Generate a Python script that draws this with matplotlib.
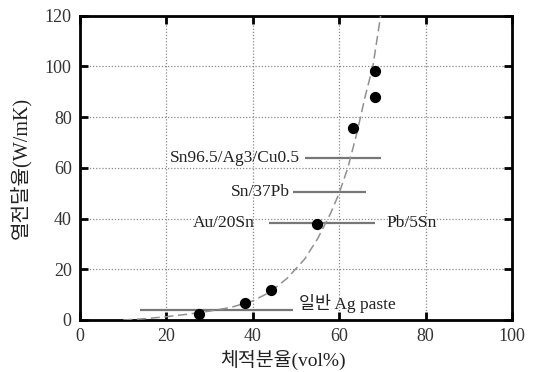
import matplotlib.pyplot as plt

# data
pts_x = [27.6, 38.3, 44.3, 54.8, 63.3, 68.2, 68.2]
pts_y = [2.4, 6.7, 11.9, 37.9, 75.5, 87.7, 98.0]

curve_x = [10, 15, 20, 25, 30, 35, 40, 44, 48, 52, 55, 58, 60, 62, 64, 66, 67.8, 69.6]
curve_y = [0, 0.5, 1.3, 2.3, 3.5, 5.0, 7.5, 11.0, 16.5, 24, 32, 42, 50, 60, 73, 88, 100, 120]

bar_labels = ['Sn96.5/Ag3/Cu0.5', 'Sn/37Pb', 'Au/20Sn', '일반 Ag paste']
bar_y = [64, 50.5, 38.2, 3.8]
bar_lo = [52.0, 49.4, 43.8, 14.0]
bar_hi = [69.6, 66.1, 68.2, 49.4]

serif = ['Liberation Serif', 'Noto Sans CJK KR']

fig = plt.figure(figsize=(5.35, 3.72), dpi=100)
ax = fig.add_axes([0.1495, 0.1398, 0.8075, 0.8185])

ax.set_xlim(0, 100)
ax.set_ylim(0, 120)
ax.set_xticks([0, 20, 40, 60, 80, 100])
ax.set_yticks([0, 20, 40, 60, 80, 100, 120])
ax.grid(True, color='#8a8a8a', linestyle=(0, (1, 1.5)), linewidth=0.9)

# horizontal range bars
ax.hlines(bar_y, bar_lo, bar_hi, color='#777777', linewidth=1.6, zorder=3)

# fitted curve
ax.plot(curve_x, curve_y, color='#909090', linestyle=(0, (6, 3)), linewidth=1.1, zorder=3)

# measured points
ax.scatter(pts_x, pts_y, s=50, color='black', zorder=4)

# labels
fs = 12.5
ax.text(51.0, 64, 'Sn96.5/Ag3/Cu0.5', ha='right', va='center', fontsize=fs, family=serif, color='#222222')
ax.text(48.5, 50.5, 'Sn/37Pb', ha='right', va='center', fontsize=fs, family=serif, color='#222222')
ax.text(40.5, 38.2, 'Au/20Sn', ha='right', va='center', fontsize=fs, family=serif, color='#222222')
ax.text(71.0, 38.2, 'Pb/5Sn', ha='left', va='center', fontsize=fs, family=serif, color='#222222')
ax.text(50.6, 6.5, '일반 Ag paste', ha='left', va='center', fontsize=fs, family=serif, color='#222222')

for s in ax.spines.values():
    s.set_linewidth(2)
ax.tick_params(direction='in', length=6, width=2, top=True, right=True, labelsize=13)
ax.tick_params(axis='x', pad=6)
ax.tick_params(axis='y', pad=6)
for lab in ax.get_xticklabels() + ax.get_yticklabels():
    lab.set_family(serif)
    lab.set_color('#333333')

ax.set_xlabel('체적분율(vol%)', fontsize=14, family=serif, color='#222222')
ax.set_ylabel('열전달율(W/mK)', fontsize=14.5, family=serif, color='#222222')
ax.xaxis.set_label_coords(0.47, -0.098)
ax.yaxis.set_label_coords(-0.112, 0.5)

plt.savefig('out.png', dpi=100)
